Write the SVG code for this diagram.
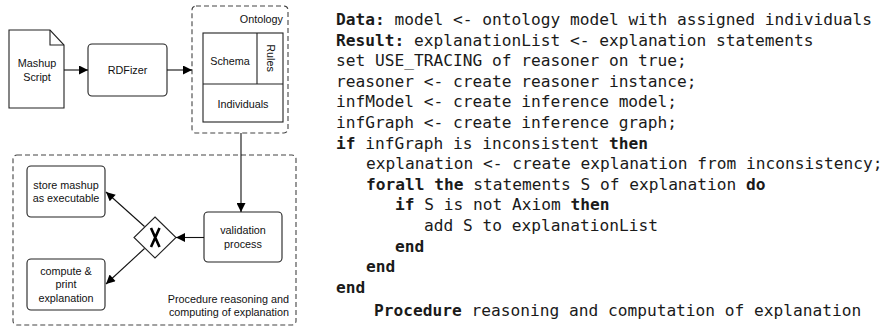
<svg xmlns="http://www.w3.org/2000/svg" width="882" height="329" viewBox="0 0 882 329">
<defs>
<marker id="ah" viewBox="0 0 10 10" refX="10" refY="5" markerWidth="11" markerHeight="9" markerUnits="userSpaceOnUse" orient="auto">
<path d="M0,0 L10,5 L0,10 Z" fill="#000"/>
</marker>
<style>
.lbl{font-family:"Liberation Sans",Arial,sans-serif;font-size:10.8px;fill:#111;text-anchor:middle}
.box{fill:#fff;stroke:#222;stroke-width:1.1}
.dash{fill:none;stroke:#444;stroke-width:1.1;stroke-dasharray:5,3}
.con{fill:none;stroke:#111;stroke-width:1.1;marker-end:url(#ah)}
.code{font-family:"DejaVu Sans Mono",monospace;font-size:16.2px;fill:#1a1a1a}
.b{font-weight:bold}
</style>
</defs>
<rect width="882" height="329" fill="#fff"/>

<g id="mashup-script">
<path class="box" d="M9,30 H50 L64,45 V108 H9 Z"/>
<path fill="none" stroke="#222" stroke-width="1.1" d="M50,30 V45 H64"/>
<text class="lbl" x="37" y="67">Mashup</text>
<text class="lbl" x="37" y="81">Script</text>
</g>

<g id="rdfizer">
<rect class="box" x="88" y="44" width="79" height="52" rx="4"/>
<text class="lbl" x="127.5" y="74">RDFizer</text>
</g>

<g id="ontology">
<rect class="dash" x="192" y="6" width="96" height="127" rx="4"/>
<text class="lbl" x="283" y="23" style="text-anchor:end">Ontology</text>
<rect class="box" x="203" y="33" width="80" height="89"/>
<path fill="none" stroke="#222" stroke-width="1.1" d="M203,84 H283 M257,33 V84"/>
<text class="lbl" x="230" y="65">Schema</text>
<text class="lbl" transform="translate(266.5,58) rotate(90)" x="0" y="0">Rules</text>
<text class="lbl" x="243" y="108">Individuals</text>
</g>

<g id="procedure-reasoning">
<rect class="dash" x="13" y="155" width="283" height="170" rx="4"/>
<text class="lbl" x="289" y="303" style="text-anchor:end">Procedure reasoning and</text>
<text class="lbl" x="289" y="316" style="text-anchor:end">computing of explanation</text>
</g>

<g id="store-mashup">
<rect class="box" x="27" y="166" width="78" height="51" rx="4"/>
<text class="lbl" x="66" y="189">store mashup</text>
<text class="lbl" x="66" y="202">as executable</text>
</g>

<g id="compute-print">
<rect class="box" x="27" y="259" width="78" height="51" rx="4"/>
<text class="lbl" x="66" y="275">compute &amp;</text>
<text class="lbl" x="66" y="288">print</text>
<text class="lbl" x="66" y="302">explanation</text>
</g>

<g id="validation-process">
<rect class="box" x="204" y="212" width="78" height="50" rx="4"/>
<text class="lbl" x="243" y="234">validation</text>
<text class="lbl" x="243" y="248">process</text>
</g>

<g id="gateway">
<path class="box" d="M155,217 L176,237.5 L155,258 L134,237.5 Z"/>
<path fill="none" stroke="#000" stroke-width="2.6" d="M151,228 L159.5,247 M159.5,228 L151,247"/>
</g>

<g id="connectors">
<line class="con" x1="64" y1="70" x2="88" y2="70"/>
<line class="con" x1="167" y1="70" x2="192" y2="70"/>
<line class="con" x1="241" y1="133" x2="241" y2="212"/>
<line class="con" x1="204" y1="237.5" x2="176" y2="237.5"/>
<line class="con" x1="144.5" y1="226.5" x2="106" y2="192"/>
<line class="con" x1="144.5" y1="248.5" x2="106" y2="284"/>
</g>

<g id="algorithm" class="code">
<text x="336" y="25"><tspan class="b">Data:</tspan> model &lt;- ontology model with assigned individuals</text>
<text x="336" y="45.6"><tspan class="b">Result:</tspan> explanationList &lt;- explanation statements</text>
<text x="336" y="66.2">set USE_TRACING of reasoner on true;</text>
<text x="336" y="86.8">reasoner &lt;- create reasoner instance;</text>
<text x="336" y="107.4">infModel &lt;- create inference model;</text>
<text x="336" y="128">infGraph &lt;- create inference graph;</text>
<text x="336" y="148.6"><tspan class="b">if</tspan> infGraph is inconsistent <tspan class="b">then</tspan></text>
<text x="366" y="169.2">explanation &lt;- create explanation from inconsistency;</text>
<text x="366" y="189.8"><tspan class="b">forall the</tspan> statements S of explanation <tspan class="b">do</tspan></text>
<text x="395" y="210.4"><tspan class="b">if</tspan> S is not Axiom <tspan class="b">then</tspan></text>
<text x="424" y="231">add S to explanationList</text>
<text x="395" y="251.6" class="b">end</text>
<text x="366" y="272.2" class="b">end</text>
<text x="336" y="292.8" class="b">end</text>
<text x="374" y="316"><tspan class="b">Procedure</tspan> reasoning and computation of explanation</text>
</g>
</svg>
